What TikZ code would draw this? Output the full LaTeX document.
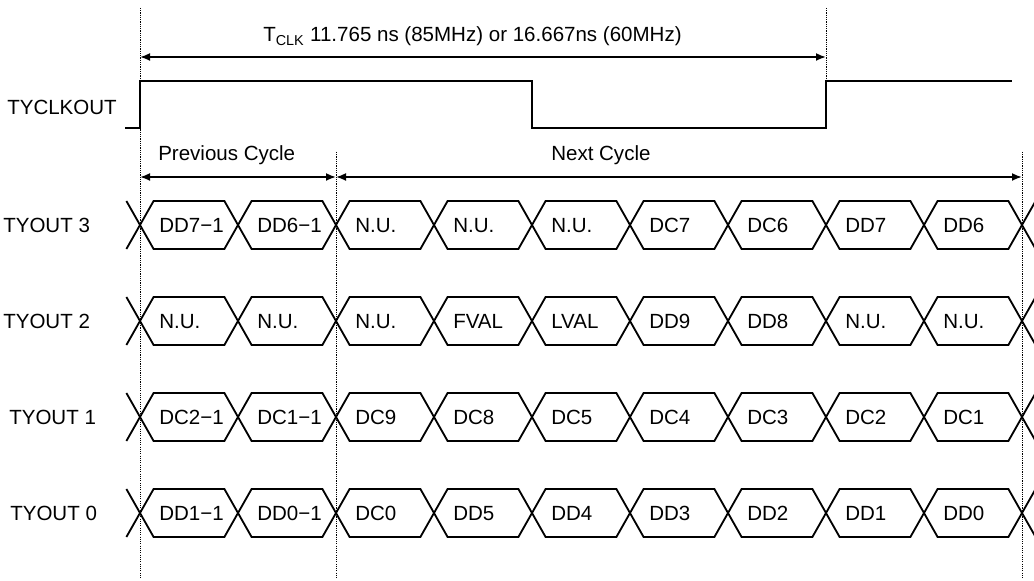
\documentclass[tikz,border=0pt]{standalone}
\usepackage{fontspec}
\setmainfont{Liberation Sans}
\usetikzlibrary{arrows.meta}

\begin{document}
\begin{tikzpicture}[
    % GLOBAL CFG
    font=\fontsize{14.6}{17}\selectfont,
    >={Latex[length=2.5mm,width=2mm]},
    % Styles
    wave/.style={% For the signal lines
        line width=1.3pt,
        },
    guide/.style={% For the dotted guides
        line width=0.6pt,
        dash pattern=on 0.8pt off 0.8pt,
        },
    span/.style={% For the time spans
        <->,
        line width=1.3pt,
        },
    sig/.style={% For the signal names
        anchor=base west,
        inner sep=0pt,
        },
    celltxt/.style={% For the data in each slot
        anchor=base west,
        inner sep=0pt,
        },
    ]

\useasboundingbox (0,0) rectangle (25.85,14.525);

%Start drawing the thing...
    % Draw the dotted guides
    \draw [guide] (3.5,14.325) -- (3.5,0.075);
    \draw [guide] (8.4,10.725) -- (8.4,0.075);
    \draw [guide] (20.65,14.325) -- (20.65,12.5);
    \draw [guide] (25.55,10.725) -- (25.55,0.075);

    % Draw the clock
    \node [sig] (clk) at (0.175,11.65) {TYCLKOUT};
    \draw [wave] (3.125,11.325) -- (3.5,11.325) -- (3.5,12.5) -- (13.3,12.5)
        -- (13.3,11.325) -- (20.65,11.325) -- (20.65,12.5) -- (25.3,12.5);

    % Draw the spans, ends named as basis tclk, prev, next
    \coordinate (tclkA) at (3.5,13.1);
    \coordinate (tclkB) at (20.65,13.1);
    \coordinate (prevA) at (3.5,10.1);
    \coordinate (prevB) at (8.4,10.1);
    \coordinate (nextB) at (25.55,10.1);
    \node [sig] (tclk) at (6.575,13.475)
        {T\textsubscript{CLK} 11.765 ns (85MHz) or 16.667ns (60MHz)};
    \node [sig] (prev) at (3.95,10.5) {Previous Cycle};
    \node [sig] (next) at (13.775,10.5) {Next Cycle};

    % Draw the data rows, names sig# and slots d#-#
    \foreach \r/\y/\lx/\cells in {
        3/8.9/0.075/{DD7−1,DD6−1,N.U.,N.U.,N.U.,DC7,DC6,DD7,DD6},
        2/6.5/0.075/{N.U.,N.U.,N.U.,FVAL,LVAL,DD9,DD8,N.U.,N.U.},
        1/4.1/0.225/{DC2−1,DC1−1,DC9,DC8,DC5,DC4,DC3,DC2,DC1},
        0/1.7/0.25/{DD1−1,DD0−1,DC0,DD5,DD4,DD3,DD2,DD1,DD0}}{
        \node [sig] (sig\r) at (\lx,\y-0.2) {TYOUT \r};
        \draw [wave] (3.5-0.34,\y+0.6) -- (3.5,\y) -- (3.5-0.34,\y-0.6);
        \draw [wave] (25.55+0.34,\y+0.6) -- (25.55,\y) -- (25.55+0.34,\y-0.6);
        \foreach \t [count=\i from 0] in \cells {
            \pgfmathsetmacro\xa{3.5+2.45*\i}
            \pgfmathsetmacro\xb{\xa+2.45}
            \draw [wave] (\xa,\y) -- (\xa+0.34,\y+0.6) -- (\xb-0.34,\y+0.6)
                -- (\xb,\y) -- (\xb-0.34,\y-0.6) -- (\xa+0.34,\y-0.6) -- cycle;
            \node [celltxt] (d\r-\i) at (\xa+0.475,\y-0.2) {\t};
        }
    }

% Start connecting all.
    \draw [span] (tclkA) -- (tclkB);
    \draw [span] (prevA) -- (prevB);
    \draw [span] (prevB) -- (nextB);

\end{tikzpicture}
\end{document}
